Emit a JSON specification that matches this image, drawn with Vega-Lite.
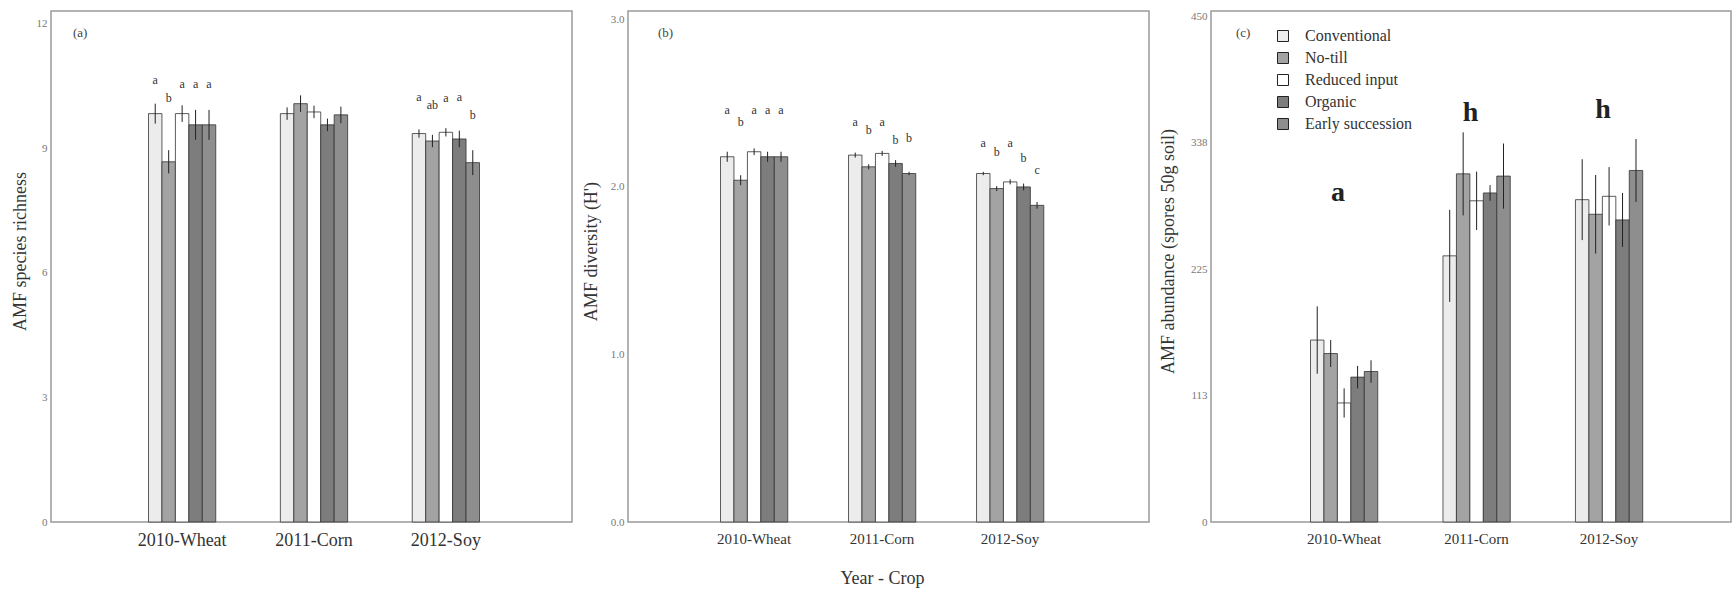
{
  "$schema": "https://vega.github.io/schema/vega-lite/v6.json",
  "padding": {"left": 10, "top": 9, "right": 5, "bottom": 0},
  "autosize": {"type": "pad"},
  "spacing": 8,
  "background": "white",
  "config": {
    "font": "Liberation Serif",
    "view": {"stroke": "#9a9a9a", "strokeWidth": 1.5},
    "axis": {"grid": false, "ticks": false, "domain": false, "labelFont": "Liberation Serif", "titleFont": "Liberation Serif", "titleFontWeight": "normal", "labelColor": "#333", "titleColor": "#333"},
    "title": {"font": "Liberation Serif", "fontWeight": "normal", "fontSize": 13, "color": "#444", "anchor": "start", "frame": "group", "offset": 0, "baseline": "middle"}
  },
  "resolve": {"legend": {"color": "independent"}},
  "datasets": {
    "rich": [
      {"crop": "2010-Wheat", "trt": "Conventional", "mean": 9.83, "lo": 9.59, "hi": 10.07, "letter": "a", "ly": 10.65},
      {"crop": "2010-Wheat", "trt": "No-till", "mean": 8.67, "lo": 8.39, "hi": 8.95, "letter": "b", "ly": 10.21},
      {"crop": "2010-Wheat", "trt": "Reduced input", "mean": 9.83, "lo": 9.63, "hi": 10.03, "letter": "a", "ly": 10.54},
      {"crop": "2010-Wheat", "trt": "Organic", "mean": 9.56, "lo": 9.2, "hi": 9.92, "letter": "a", "ly": 10.54},
      {"crop": "2010-Wheat", "trt": "Early succession", "mean": 9.56, "lo": 9.2, "hi": 9.92, "letter": "a", "ly": 10.54},
      {"crop": "2011-Corn", "trt": "Conventional", "mean": 9.83, "lo": 9.68, "hi": 9.98, "letter": "", "ly": 10.5},
      {"crop": "2011-Corn", "trt": "No-till", "mean": 10.07, "lo": 9.87, "hi": 10.27, "letter": "", "ly": 10.5},
      {"crop": "2011-Corn", "trt": "Reduced input", "mean": 9.87, "lo": 9.72, "hi": 10.02, "letter": "", "ly": 10.5},
      {"crop": "2011-Corn", "trt": "Organic", "mean": 9.56, "lo": 9.41, "hi": 9.71, "letter": "", "ly": 10.5},
      {"crop": "2011-Corn", "trt": "Early succession", "mean": 9.8, "lo": 9.6, "hi": 10.0, "letter": "", "ly": 10.5},
      {"crop": "2012-Soy", "trt": "Conventional", "mean": 9.35, "lo": 9.25, "hi": 9.45, "letter": "a", "ly": 10.24},
      {"crop": "2012-Soy", "trt": "No-till", "mean": 9.17, "lo": 9.02, "hi": 9.32, "letter": "ab", "ly": 10.04},
      {"crop": "2012-Soy", "trt": "Reduced input", "mean": 9.38, "lo": 9.28, "hi": 9.48, "letter": "a", "ly": 10.2},
      {"crop": "2012-Soy", "trt": "Organic", "mean": 9.22, "lo": 9.02, "hi": 9.42, "letter": "a", "ly": 10.22},
      {"crop": "2012-Soy", "trt": "Early succession", "mean": 8.65, "lo": 8.35, "hi": 8.95, "letter": "b", "ly": 9.79}
    ],
    "div": [
      {"crop": "2010-Wheat", "trt": "Conventional", "mean": 2.18, "lo": 2.15, "hi": 2.21, "letter": "a", "ly": 2.46},
      {"crop": "2010-Wheat", "trt": "No-till", "mean": 2.04, "lo": 2.01, "hi": 2.07, "letter": "b", "ly": 2.39},
      {"crop": "2010-Wheat", "trt": "Reduced input", "mean": 2.21, "lo": 2.19, "hi": 2.23, "letter": "a", "ly": 2.46},
      {"crop": "2010-Wheat", "trt": "Organic", "mean": 2.18, "lo": 2.15, "hi": 2.21, "letter": "a", "ly": 2.46},
      {"crop": "2010-Wheat", "trt": "Early succession", "mean": 2.18, "lo": 2.15, "hi": 2.21, "letter": "a", "ly": 2.46},
      {"crop": "2011-Corn", "trt": "Conventional", "mean": 2.19, "lo": 2.175, "hi": 2.205, "letter": "a", "ly": 2.39},
      {"crop": "2011-Corn", "trt": "No-till", "mean": 2.12, "lo": 2.105, "hi": 2.135, "letter": "b", "ly": 2.34},
      {"crop": "2011-Corn", "trt": "Reduced input", "mean": 2.2, "lo": 2.185, "hi": 2.215, "letter": "a", "ly": 2.39},
      {"crop": "2011-Corn", "trt": "Organic", "mean": 2.14, "lo": 2.12, "hi": 2.16, "letter": "b", "ly": 2.28},
      {"crop": "2011-Corn", "trt": "Early succession", "mean": 2.08, "lo": 2.07, "hi": 2.09, "letter": "b", "ly": 2.29},
      {"crop": "2012-Soy", "trt": "Conventional", "mean": 2.08, "lo": 2.07, "hi": 2.09, "letter": "a", "ly": 2.26},
      {"crop": "2012-Soy", "trt": "No-till", "mean": 1.99, "lo": 1.975, "hi": 2.005, "letter": "b", "ly": 2.21},
      {"crop": "2012-Soy", "trt": "Reduced input", "mean": 2.03, "lo": 2.015, "hi": 2.045, "letter": "a", "ly": 2.26},
      {"crop": "2012-Soy", "trt": "Organic", "mean": 2.0, "lo": 1.98, "hi": 2.02, "letter": "b", "ly": 2.17},
      {"crop": "2012-Soy", "trt": "Early succession", "mean": 1.89, "lo": 1.87, "hi": 1.91, "letter": "c", "ly": 2.1}
    ],
    "abund": [
      {"crop": "2010-Wheat", "trt": "Conventional", "mean": 162, "lo": 132, "hi": 192},
      {"crop": "2010-Wheat", "trt": "No-till", "mean": 150, "lo": 138, "hi": 162},
      {"crop": "2010-Wheat", "trt": "Reduced input", "mean": 106, "lo": 93, "hi": 119},
      {"crop": "2010-Wheat", "trt": "Organic", "mean": 129, "lo": 119, "hi": 139},
      {"crop": "2010-Wheat", "trt": "Early succession", "mean": 134, "lo": 124, "hi": 144},
      {"crop": "2011-Corn", "trt": "Conventional", "mean": 237, "lo": 196, "hi": 278},
      {"crop": "2011-Corn", "trt": "No-till", "mean": 310, "lo": 273, "hi": 347},
      {"crop": "2011-Corn", "trt": "Reduced input", "mean": 286, "lo": 260, "hi": 312},
      {"crop": "2011-Corn", "trt": "Organic", "mean": 293, "lo": 286, "hi": 300},
      {"crop": "2011-Corn", "trt": "Early succession", "mean": 308, "lo": 279, "hi": 337},
      {"crop": "2012-Soy", "trt": "Conventional", "mean": 287, "lo": 251, "hi": 323},
      {"crop": "2012-Soy", "trt": "No-till", "mean": 274, "lo": 239, "hi": 309},
      {"crop": "2012-Soy", "trt": "Reduced input", "mean": 290, "lo": 264, "hi": 316},
      {"crop": "2012-Soy", "trt": "Organic", "mean": 269, "lo": 245, "hi": 293},
      {"crop": "2012-Soy", "trt": "Early succession", "mean": 313, "lo": 285, "hi": 341}
    ],
    "abund_letters": [
      {"crop": "2010-Wheat", "letter": "a", "ly": 293},
      {"crop": "2011-Corn", "letter": "h", "ly": 364},
      {"crop": "2012-Soy", "letter": "h", "ly": 367}
    ]
  },
  "hconcat": [
    {
      "width": 521, "height": 511,
      "title": {"text": "(a)", "dx": 22, "dy": 33},
      "data": {"name": "rich"},
      "encoding": {
        "x": {"field": "crop", "type": "nominal", "sort": ["2010-Wheat", "2011-Corn", "2012-Soy"], "scale": {"range": [97.5, 428.5], "paddingInner": 0.49, "paddingOuter": 0}, "axis": {"title": null, "labelAngle": 0, "labelFontSize": 18, "labelPadding": 9, "labelColor": "#333"}},
        "xOffset": {"field": "trt", "type": "nominal", "sort": ["Conventional", "No-till", "Reduced input", "Organic", "Early succession"]}
      },
      "layer": [
        {"mark": {"type": "bar", "stroke": "#333", "strokeWidth": 0.8},
         "encoding": {
           "y": {"field": "mean", "type": "quantitative", "scale": {"domain": [0, 12.3], "nice": false}, "axis": {"title": "AMF species richness", "values": [0, 3, 6, 9, 12], "labelFontSize": 11, "labelColor": "#777", "labelPadding": 4, "titleFontSize": 18, "titlePadding": 7, "titleY": 240}},
           "color": {"field": "trt", "type": "nominal", "scale": {"domain": ["Conventional", "No-till", "Reduced input", "Organic", "Early succession"], "range": ["#ececec", "#a3a3a3", "#ffffff", "#7d7d7d", "#8e8e8e"]}, "legend": null}
         }},
        {"mark": {"type": "rule", "color": "#222", "strokeWidth": 1},
         "encoding": {"y": {"field": "lo", "type": "quantitative"}, "y2": {"field": "hi"}}},
        {"mark": {"type": "text", "fontSize": 12, "color": "#333", "baseline": "middle"},
         "encoding": {"y": {"field": "ly", "type": "quantitative"}, "text": {"field": "letter"}}}
      ]
    },
    {
      "width": 521, "height": 511,
      "title": {"text": "(b)", "dx": 30, "dy": 33},
      "data": {"name": "div"},
      "encoding": {
        "x": {"field": "crop", "type": "nominal", "sort": ["2010-Wheat", "2011-Corn", "2012-Soy"], "scale": {"range": [92.5, 415.5], "paddingInner": 0.477, "paddingOuter": 0}, "axis": {"title": "Year - Crop", "labelAngle": 0, "labelFontSize": 15, "labelPadding": 9, "titleFontSize": 18, "titlePadding": 23}},
        "xOffset": {"field": "trt", "type": "nominal", "sort": ["Conventional", "No-till", "Reduced input", "Organic", "Early succession"]}
      },
      "layer": [
        {"mark": {"type": "bar", "stroke": "#333", "strokeWidth": 0.8},
         "encoding": {
           "y": {"field": "mean", "type": "quantitative", "scale": {"domain": [0, 3.05], "nice": false}, "axis": {"title": "AMF diversity (H')", "values": [0, 1, 2, 3], "format": ".1f", "labelFontSize": 11, "labelColor": "#777", "labelPadding": 4, "titleFontSize": 18, "titlePadding": 10, "titleY": 240}},
           "color": {"field": "trt", "type": "nominal", "scale": {"domain": ["Conventional", "No-till", "Reduced input", "Organic", "Early succession"], "range": ["#ececec", "#a3a3a3", "#ffffff", "#7d7d7d", "#8e8e8e"]}, "legend": null}
         }},
        {"mark": {"type": "rule", "color": "#222", "strokeWidth": 1},
         "encoding": {"y": {"field": "lo", "type": "quantitative"}, "y2": {"field": "hi"}}},
        {"mark": {"type": "text", "fontSize": 12, "color": "#333", "baseline": "middle"},
         "encoding": {"y": {"field": "ly", "type": "quantitative"}, "text": {"field": "letter"}}}
      ]
    },
    {
      "width": 520, "height": 511,
      "title": {"text": "(c)", "dx": 25, "dy": 33},
      "encoding": {
        "x": {"field": "crop", "type": "nominal", "sort": ["2010-Wheat", "2011-Corn", "2012-Soy"], "scale": {"range": [99.5, 431.5], "paddingInner": 0.494, "paddingOuter": 0}, "axis": {"title": null, "labelAngle": 0, "labelFontSize": 15, "labelPadding": 9}}
      },
      "layer": [
        {"data": {"name": "abund"},
         "mark": {"type": "bar", "stroke": "#333", "strokeWidth": 0.8},
         "encoding": {
           "xOffset": {"field": "trt", "type": "nominal", "sort": ["Conventional", "No-till", "Reduced input", "Organic", "Early succession"]},
           "y": {"field": "mean", "type": "quantitative", "scale": {"domain": [0, 455], "nice": false}, "axis": {"title": "AMF abundance (spores 50g soil)", "values": [0, 112.5, 225, 337.5, 450], "format": "d", "labelFontSize": 11, "labelColor": "#777", "labelPadding": 4, "titleFontSize": 18, "titlePadding": 13.5, "titleY": 240}},
           "color": {"field": "trt", "type": "nominal", "scale": {"domain": ["Conventional", "No-till", "Reduced input", "Organic", "Early succession"], "range": ["#ececec", "#a3a3a3", "#ffffff", "#7d7d7d", "#8e8e8e"]},
             "legend": {"title": null, "orient": "none", "legendX": 64, "legendY": 17, "padding": 0, "symbolType": "square", "symbolSize": 121, "symbolStrokeColor": "#222", "symbolStrokeWidth": 1, "labelFont": "Liberation Serif", "labelFontSize": 16, "labelColor": "#333", "labelOffset": 14, "rowPadding": 6, "labelLimit": 300}}
         }},
        {"data": {"name": "abund"},
         "mark": {"type": "rule", "color": "#222", "strokeWidth": 1},
         "encoding": {
           "xOffset": {"field": "trt", "type": "nominal", "sort": ["Conventional", "No-till", "Reduced input", "Organic", "Early succession"]},
           "y": {"field": "lo", "type": "quantitative"}, "y2": {"field": "hi"}}},
        {"data": {"name": "abund_letters"},
         "mark": {"type": "text", "fontSize": 28, "fontWeight": "bold", "color": "#222", "baseline": "middle", "dx": -6},
         "encoding": {"y": {"field": "ly", "type": "quantitative"}, "text": {"field": "letter"}}}
      ]
    }
  ]
}
